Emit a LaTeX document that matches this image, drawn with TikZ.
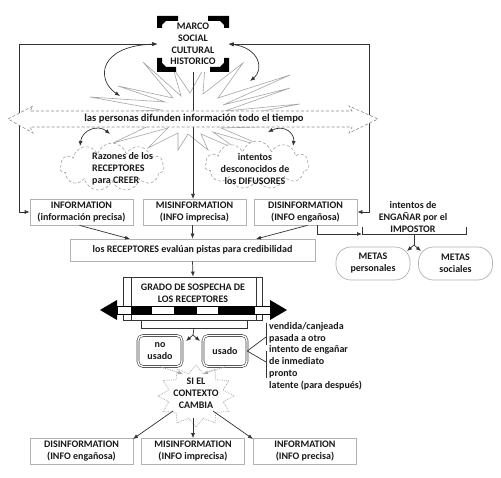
\documentclass[tikz,border=0pt]{standalone}
\usepackage{fontspec}
\setmainfont{Carlito}
\usetikzlibrary{arrows.meta,shapes.symbols,shapes.misc}
\begin{document}
\begin{tikzpicture}[x=1pt,y=-1pt,
  txt/.style={font=\fontsize{10}{12}\selectfont\bfseries, text=black!90, align=center, inner sep=0pt},
  box/.style={txt, draw=black!30, line width=0.7pt, minimum width=103pt, minimum height=26pt},
  arr/.style={-{Latex[length=5pt,width=4pt]}, line width=0.7pt, draw=black!80},
  arrb/.style={{Latex[length=5pt,width=4pt]}-{Latex[length=5pt,width=4pt]}, line width=0.7pt, draw=black!80},
  plain/.style={line width=0.7pt, draw=black!80},
  cloudbox/.style={cloud, cloud puffs=11, aspect=2.1, draw=black!35, densely dashed, line width=0.6pt, fill=white, inner sep=0pt},
  usedbox/.style={txt, draw=black!75, double=white, double distance=1.4pt, line width=0.6pt, rounded corners=5pt, minimum width=44pt, minimum height=31pt},
  metas/.style={txt, draw=black!30, line width=0.7pt, rounded corners=15pt, minimum width=74pt, minimum height=33pt},
  corner/.style={fill=black}
]
\useasboundingbox (0,0) rectangle (501,478);
\fill[white] (0,0) rectangle (501,478);

% big starburst behind
\draw[black!35, line width=0.6pt, shift={(193,118)}] (-50,-56) -- (-12,-22) -- (-20,-50) -- (-3,-25) -- (12,-52) -- (10,-24) -- (50,-55) -- (25,-20) -- (97,-43) -- (30,-13) -- (97,-30) -- (32,-7) -- (107,-14) -- (32,0) -- (100,8) -- (28,10) -- (75,30) -- (20,14) -- (45,32) -- (8,16) -- (15,32) -- (-5,16) -- (-15,32) -- (-15,15) -- (-45,30) -- (-25,10) -- (-80,25) -- (-32,2) -- (-103,-5) -- (-32,-8) -- (-103,-21) -- (-28,-16) -- (-75,-32) -- (-20,-20) -- cycle;

% MARCO node
\node[txt, fill=white, minimum width=71pt, minimum height=56pt, font=\fontsize{10}{11.7}\selectfont\bfseries] (marco) at (193,44) {MARCO\\SOCIAL\\CULTURAL\\HISTORICO};
\fill[corner] (157,16) -- (178,16) -- (178,21) -- (166,21) -- (162,25) -- (162,28) -- (157,28) -- cycle;
\fill[corner] (229,16) -- (208,16) -- (208,21) -- (220,21) -- (224,25) -- (224,28) -- (229,28) -- cycle;
\fill[corner] (157,72) -- (176,72) -- (176,67) -- (166,67) -- (162,63) -- (162,58) -- (157,58) -- cycle;
\fill[corner] (229,72) -- (210,72) -- (210,67) -- (220,67) -- (224,63) -- (224,58) -- (229,58) -- cycle;

% row 1 boxes
\node[box] (info1) at (81.5,212) {INFORMATION\\(información precisa)};
\node[box] (mis1) at (194.5,212) {MISINFORMATION\\(INFO imprecisa)};
\node[box] (dis1) at (305.5,212) {DISINFORMATION\\(INFO engañosa)};

% outer frame lines
\coordinate (lc) at (19,44);
\coordinate (rc) at (369,44);
\draw[arrb] (marco.west) -- (lc) |- (info1.west);
\draw[arrb] (marco.east) -- (rc) |- (dis1.east);

% central line
\draw[arr] (marco.south) -- (193,199);

% dashed band
\fill[white] (8,119) -- (33,106) -- (30,111) -- (352,111) -- (349,106) -- (378,119) -- (349,133) -- (352,127) -- (30,127) -- (33,133) -- cycle;
\draw[black!45, densely dashed, line width=0.6pt] (8,119) -- (33,106) -- (30,111) -- (352,111) -- (349,106) -- (378,119) -- (349,133) -- (352,127) -- (30,127) -- (33,133) -- cycle;
\node[txt, font=\fontsize{10.6}{12}\selectfont\bfseries] (band) at (194,119) {las personas difunden información todo el tiempo};

% curved arrows to MARCO
\coordinate (cv1) at (120,96);
\coordinate (cv2) at (250,81);
\draw[arrb] (marco.west) .. controls (98,46) and (96,80) .. (cv1);
\draw[arrb] (marco.east) .. controls (260,48) and (264,70) .. (cv2);

% clouds
\node[cloudbox, minimum width=104pt, minimum height=48pt] (cl1) at (112,167) {};
\node[cloudbox, minimum width=104pt, minimum height=48pt] (cl2) at (257,165) {};
\node[txt, align=left, anchor=west] (cl1t) at (92,169) {Razones de los\\RECEPTORES\\para CREER};
\node[txt] (cl2t) at (255,169) {intentos\\desconocidos de\\los DIFUSORES};
\coordinate (sc1a) at (110,134);
\coordinate (sc1b) at (80,146);
\coordinate (sc2a) at (268,132);
\coordinate (sc2b) at (293,146);
\draw[arrb] (sc1a) .. controls (98,124) and (82,130) .. (sc1b);
\draw[arrb] (sc2a) .. controls (285,124) and (295,134) .. (sc2b);

% evaluan box
\node[box, minimum width=245pt, minimum height=22pt] (eval) at (192.5,250) {los RECEPTORES evalúan pistas para credibilidad};
\draw[arr] (info1.south) ++(-2,0) coordinate (i1s) -- (130,239);
\draw[arr] (mis1.south -| eval.north) -- (eval.north);
\draw[arr] (dis1.south) ++(2,0) coordinate (d1s) -- (256,239);

% impostor
\node[txt] (impo) at (413,217) {intentos de\\ENGAÑAR por el\\IMPOSTOR};
\coordinate (brl) at (362,234);
\coordinate (brr) at (466,234);
\draw[plain] (362,227) -- (brl) -- (brr) -- (466,227);
\draw[arr] (dis1.south) ++(12,0) coordinate (d1e) |- (brl);
\coordinate (brm) at (414,234);
\coordinate (brs) at (414,245);
\node[metas] (m1) at (373,263.5) {METAS\\personales};
\node[metas] (m2) at (455.5,263.5) {METAS\\sociales};
\draw[plain] (brm) -- (brs);
\draw[arr] (brs) -- (407,251);
\draw[arr] (brs) -- (421,251);

% GRADO
\node[draw=black!80, line width=0.7pt, minimum width=139pt, minimum height=43pt, inner sep=0pt] (grado) at (193,298.5) {};
\draw[plain] (131,277) -- (131,320);
\draw[plain] (256,277) -- (256,320);
\node[txt] (gradot) at (193,293) {GRADO DE SOSPECHA DE\\LOS RECEPTORES};
\draw[arr] (eval.south) -- (grado.north);
\fill[black] (100,310) -- (117,300) -- (117,320) -- cycle;
\fill[black] (287,310) -- (270,300) -- (270,320) -- cycle;
\draw[black, line width=0.8pt, fill=white] (117,306) rectangle (270,314);
\fill[black] (131,306) rectangle (152,314);
\fill[black] (174,306) rectangle (197,314);
\fill[black] (218,306) rectangle (255,314);
\node[draw=black!80, line width=0.7pt, minimum width=106pt, minimum height=8pt, inner sep=0pt] (gradob) at (194,324) {};

% usado boxes
\node[usedbox] (nouso) at (160,351) {no\\usado};
\node[usedbox] (uso) at (225,351) {usado};
\coordinate (spl) at (193,335);
\draw[plain] (gradob.south) -- (spl);
\draw[arr] (spl) -- (186,341);
\draw[arr] (spl) -- (200,341);

% list
\coordinate (lu1) at (266,323);
\coordinate (lu2) at (266,345);
\coordinate (ll1) at (266,351);
\coordinate (ll2) at (266,378);
\draw[plain] (lu1) -- (lu2);
\draw[plain] (ll1) -- (ll2);
\draw[plain] (uso.east) -- (266,337);
\draw[plain] (uso.east) -- (266,362);
\node[txt, align=left, anchor=north west, font=\fontsize{10}{11.8}\selectfont\bfseries] (list) at (269,322) {vendida/canjeada\\pasada a otro\\intento de engañar\\de inmediato\\pronto\\latente (para después)};

% SI EL CONTEXTO CAMBIA star
\draw[black!30, densely dotted, line width=0.8pt] plot[samples at={0,15,...,345}] ({196+ifthenelse(mod(\x,30)<1,38,28)*cos(\x)}, {396+ifthenelse(mod(\x,30)<1,31,23)*sin(\x)}) -- cycle;
\node[txt] (ctx) at (196,393) {SI EL\\CONTEXTO\\CAMBIA};
\draw[black!35, densely dotted, line width=0.8pt, -{Latex[length=5pt,width=4pt]}] (nouso.south) -- (183,374);
\draw[black!35, densely dotted, line width=0.8pt, -{Latex[length=5pt,width=4pt]}] (uso.south) -- (203,374);
\coordinate (s1) at (173,411);
\coordinate (s2) at (193,418);
\coordinate (s3) at (213,411);

% bottom boxes
\node[box] (dis2) at (81.5,451.5) {DISINFORMATION\\(INFO engañosa)};
\node[box] (mis2) at (193,451.5) {MISINFORMATION\\(INFO imprecisa)};
\node[box] (inf2) at (305,451.5) {INFORMATION\\(INFO precisa)};
\draw[arr] (s1) -- (133,439);
\draw[arr] (s2) -- (mis2.north);
\draw[arr] (s3) -- (253,439);
\end{tikzpicture}
\end{document}
